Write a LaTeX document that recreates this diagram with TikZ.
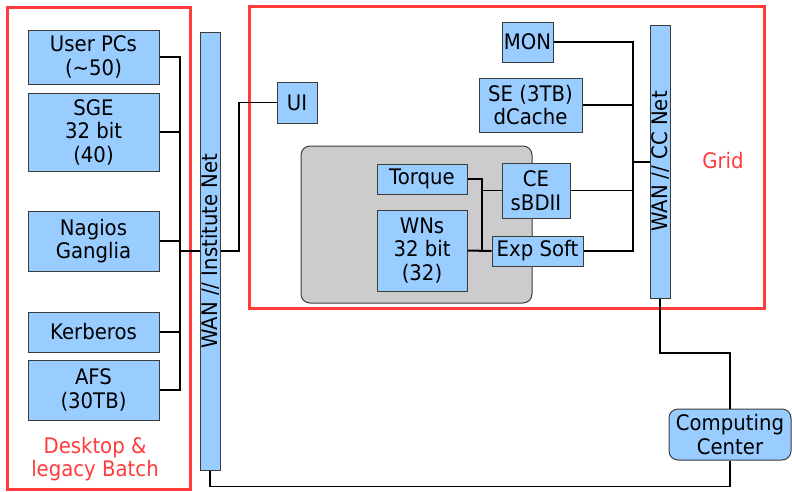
\documentclass[tikz,border=0pt]{standalone}
\usepackage{fontspec}
\setmainfont{DejaVu Sans}[FakeStretch=0.92]
\definecolor{cblue}{HTML}{99CCFF}
\definecolor{cred}{HTML}{FF3B3B}
\definecolor{cgray}{HTML}{CCCCCC}
\definecolor{cedge}{HTML}{3C3C3C}
\tikzset{
  fnt/.style={font=\fontsize{21.4}{23.5}\selectfont},
  box/.style={fnt, draw=cedge, fill=cblue, line width=1pt, inner sep=0pt, align=center},
  bar/.style={box, rotate=90, text height=16pt, text depth=0.4pt},
  conn/.style={draw=black, line width=1.3pt},
  thickconn/.style={draw=black, line width=2pt},
  group/.style={draw=cred, line width=3pt},
  grouplabel/.style={fnt, text=cred, align=center, inner sep=0pt}
}
\begin{document}
\begin{tikzpicture}[x=1pt,y=-1pt]
\useasboundingbox (0,0) rectangle (792,491);
% group frames
\draw[group] (7,7) rectangle (190,489);
\draw[group] (249,6) rectangle (764,308);
\draw[draw=cedge, fill=cgray, line width=1pt, rounded corners=9pt] (301,146) rectangle (532,303);
% left nodes
\node[box, minimum width=131pt, minimum height=54pt] (userpcs) at (93.5,57) {User PCs\\(\textasciitilde50)};
\node[box, minimum width=131pt, minimum height=78pt] (sge) at (93.5,132) {SGE\\32 bit\\(40)};
\node[box, minimum width=131pt, minimum height=60pt] (nagios) at (93.5,241) {Nagios\\Ganglia};
\node[box, minimum width=131pt, minimum height=40pt] (kerberos) at (93.5,332) {Kerberos};
\node[box, minimum width=131pt, minimum height=60pt] (afs) at (93.5,390) {AFS\\(30TB)};
\node[grouplabel] (desk) at (95,459) {Desktop \&\\legacy Batch};
% institute net (rotated: north = left side, south = right side, west = bottom, east = top)
\node[bar, minimum width=438pt, minimum height=20pt] (inet) at (210,251) {WAN // Institute Net};
\node[box, minimum width=40pt, minimum height=41pt] (ui) at (297,102.5) {UI};
% grid nodes
\node[box, minimum width=51pt, minimum height=40pt] (mon) at (527.5,42) {MON};
\node[box, minimum width=103pt, minimum height=54pt] (se) at (530.5,105) {SE (3TB)\\dCache};
\node[box, minimum width=90pt, minimum height=30pt] (torque) at (422,179) {Torque};
\node[box, minimum width=90pt, minimum height=81pt] (wns) at (422,250.5) {WNs\\32 bit\\(32)};
\node[box, minimum width=68pt, minimum height=55pt] (ce) at (536,190.5) {CE\\sBDII};
\node[box, minimum width=91pt, minimum height=30pt] (exp) at (537.5,251) {Exp Soft};
\node[bar, minimum width=273pt, minimum height=20pt] (ccnet) at (660,161.5) {WAN // CC Net};
\node[grouplabel] (grid) at (723,161) {Grid};
\node[box, rounded corners=9pt, minimum width=122pt, minimum height=51pt] (cc) at (730,434.5) {Computing\\Center};
% helper coordinates
\coordinate (lbus) at (180,0);
\coordinate (uibend) at (239,0);
\coordinate (rbus) at (633,0);
\coordinate (ibus) at (482,0);
\coordinate (ccmid) at (0,353);
% left connectors
\draw[conn] (userpcs.east) -| (lbus |- afs.east) -- (afs.east);
\draw[conn] (sge.east) -- (sge.east -| lbus);
\draw[conn] (nagios.east) -- (nagios.east -| lbus);
\draw[conn] (kerberos.east) -- (kerberos.east -| lbus);
\draw[thickconn] (lbus |- inet.north) -- (inet.north);
\draw[conn] (inet.south) -| (uibend |- ui.west) -- (ui.west);
\draw[conn] (inet.west) -- ++(0,16) -| (cc.south);
% grid connectors
\draw[conn] (mon.east) -| (rbus |- exp.east) -- (exp.east);
\draw[conn] (se.east) -- (se.east -| rbus);
\draw[conn] (ce.east) -- (ce.east -| rbus);
\draw[thickconn] (rbus |- ccnet.north) -- (ccnet.north);
\draw[thickconn] (torque.east) -| (ibus |- wns.east);
\draw[thickconn] (wns.east) -- (exp.west);
\draw[conn] (ibus |- ce.west) -- (ce.west);
\draw[conn] (ccnet.west) |- (ccmid -| cc.north) -- (cc.north);
\end{tikzpicture}
\end{document}
